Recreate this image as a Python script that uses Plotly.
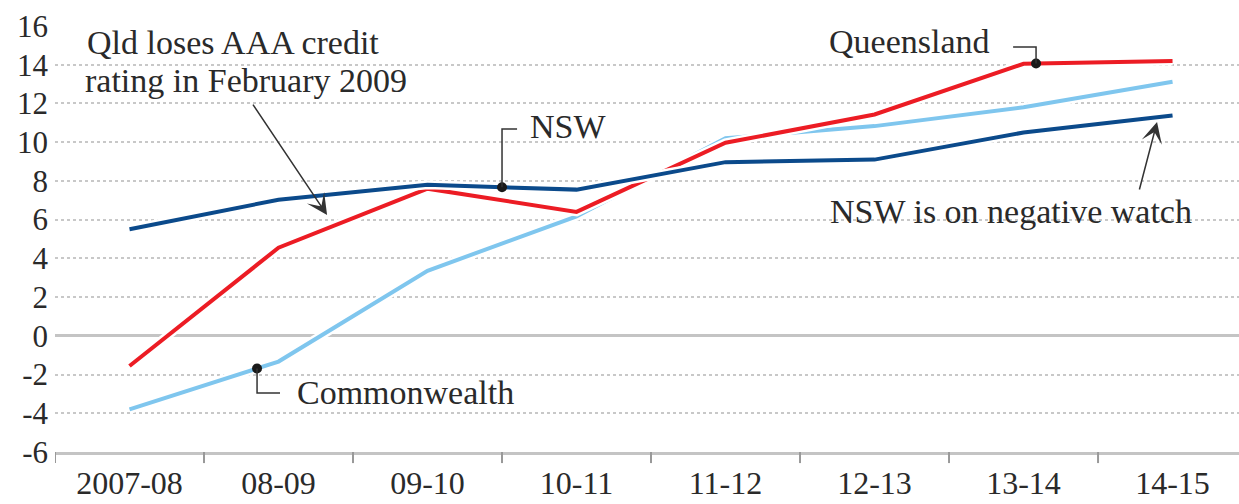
import numpy as np
import plotly.graph_objects as go

categories = ["2007-08", "08-09", "09-10", "10-11", "11-12", "12-13", "13-14", "14-15"]
commonwealth = [-3.8, -1.33, 3.36, 6.17, 10.2, 10.83, 11.8, 13.12]
queensland = [-1.56, 4.55, 7.6, 6.4, 9.97, 11.43, 14.05, 14.19]
nsw = [5.5, 7.03, 7.8, 7.55, 8.97, 9.1, 10.5, 11.38]
y_ticks = [-6, -4, -2, 0, 2, 4, 6, 8, 10, 12, 14, 16]
y_tick_labels = ["-6", "-4", "-2", "0", "2", "4", "6", "8", "10", "12", "14", "16"]

RED = "#ec1c24"
NAVY = "#0b4a8b"
LIGHT = "#7fc6ee"
TXT = "#2a2a2a"
FONT = "Liberation Serif"

idx = list(range(len(categories)))
fig = go.Figure()
for vals, col in [(commonwealth, LIGHT), (queensland, RED), (nsw, NAVY)]:
    fig.add_trace(go.Scatter(x=idx, y=vals, mode="lines",
                             line=dict(color="white", width=9), hoverinfo="skip", showlegend=False))
    fig.add_trace(go.Scatter(x=idx, y=vals, mode="lines",
                             line=dict(color=col, width=4), showlegend=False))

# label markers on the lines (positions along the x axis, y read from the series)
marker_pts = [(0.856, commonwealth), (2.5, nsw), (6.084, queensland)]
mx = [p for p, _ in marker_pts]
my = [float(np.interp(p, idx, s)) for p, s in marker_pts]
fig.add_trace(go.Scatter(x=mx, y=my, mode="markers",
                         marker=dict(color="#1a1a1a", size=10), showlegend=False))

shapes = []
def leader(pts):
    path = "M " + " L ".join(f"{x},{y}" for x, y in pts)
    shapes.append(dict(type="path", path=path, xref="x", yref="y",
                       line=dict(color="#333333", width=1.5)))

leader([(mx[1], my[1]), (mx[1], 10.68), (2.601, 10.68)])
leader([(mx[2], my[2]), (mx[2], 14.92), (5.93, 14.92)])
leader([(mx[0], my[0]), (mx[0], -2.95), (1.01, -2.95)])

annotations = []
def label(text, x, y):
    annotations.append(dict(text=text, x=x, y=y, xref="x", yref="y",
                            xanchor="left", yanchor="middle", showarrow=False,
                            font=dict(family=FONT, size=34, color=TXT)))

label("Qld loses AAA credit", -0.299, 15.15)
label("rating in February 2009", -0.312, 13.21)
label("NSW", 2.674, 10.81)
label("Queensland", 4.681, 15.2)
label("Commonwealth", 1.111, -2.93)
label("NSW is on negative watch", 4.688, 6.42)

def arrow(tx, ty, hx, hy):
    annotations.append(dict(text="", x=hx, y=hy, ax=tx, ay=ty, xref="x", yref="y",
                            axref="x", ayref="y", showarrow=True, arrowhead=3,
                            arrowsize=2.3, arrowwidth=1.5, arrowcolor="#333333"))

arrow(0.822, 12.02, 1.326, 6.24)
arrow(6.775, 7.48, 6.896, 11.04)

# category boundary ticks on the x axis
for b in [i - 0.5 for i in idx]:
    shapes.append(dict(type="line", xref="x", yref="paper", x0=b, x1=b, y0=0, y1=-0.026,
                       line=dict(color="#999999", width=2)))

fig.update_layout(
    width=1239, height=504,
    margin=dict(l=55, r=0, t=26, b=52),
    paper_bgcolor="white", plot_bgcolor="white",
    shapes=shapes, annotations=annotations,
    xaxis=dict(
        type="linear", range=[-0.5, 7.446], automargin=False,
        tickmode="array", tickvals=idx, ticktext=categories,
        showgrid=False, zeroline=False,
        showline=True, linecolor="#c4c4c4", linewidth=3,
        ticks="", ticklabelstandoff=1,
        tickfont=dict(family=FONT, size=32, color=TXT),
    ),
    yaxis=dict(
        range=[-6, 16], tickmode="array", tickvals=y_ticks, ticktext=y_tick_labels,
        showgrid=True, gridcolor="#c8c8c8", gridwidth=1.5, griddash="dot",
        zeroline=True, zerolinecolor="#c4c4c4", zerolinewidth=3, automargin=False,
        showline=False, ticks="", ticklabelstandoff=6,
        tickfont=dict(family=FONT, size=31, color=TXT),
    ),
)

fig.write_html("out.html")
